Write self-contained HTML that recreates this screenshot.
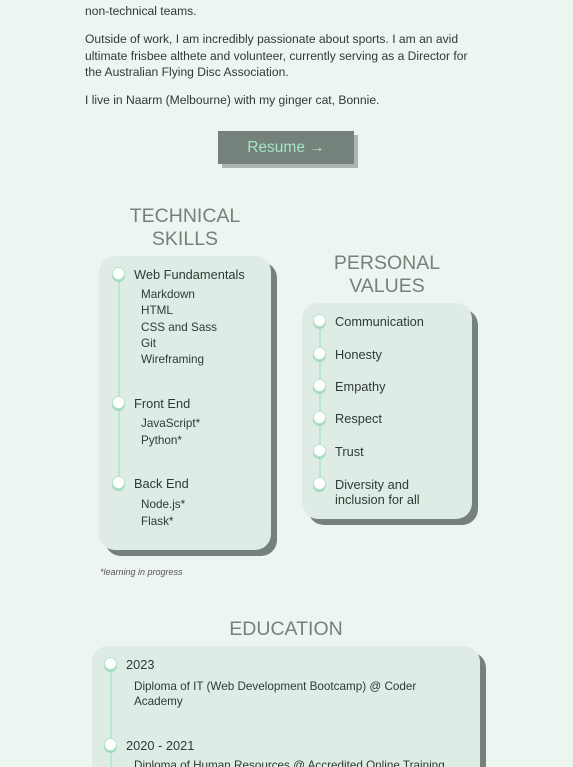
<!DOCTYPE html><html><head><style>
html,body{margin:0;width:573px;height:767px;overflow:hidden}
body{background:#edf5f0;font-family:"Liberation Sans",sans-serif;color:#2f3a34;position:relative}
.a{position:absolute;white-space:nowrap}
p{margin:0;font-size:12.1px;line-height:16.5px}
.h{color:#74827b;font-size:19.5px;text-align:center;line-height:23px}
.card{position:absolute;background:#dfece5;border-radius:16px;box-shadow:6px 6px 0 #74827b}
.dot{position:absolute;width:11px;height:11px;border-radius:50%;background:#fff;border:1px solid #b9e2cc;box-shadow:0 2px 0 #9fdcbc}
.line{position:absolute;width:2px;background:#b9e8cf}
.t{font-size:12.8px}
.s{font-size:11.7px}
</style></head><body>
<p class="a" style="left:85px;top:3px">non-technical teams.</p>
<p class="a" style="left:85px;top:31px">Outside of work, I am incredibly passionate about sports. I am an avid<br>ultimate frisbee althete and volunteer, currently serving as a Director for<br>the Australian Flying Disc Association.</p>
<p class="a" style="left:85px;top:92px">I live in Naarm (Melbourne) with my ginger cat, Bonnie.</p>
<div class="a" style="left:222px;top:135px;width:136px;height:33px;background:#a9b5ae"></div>
<div class="a" style="left:218px;top:131px;width:136px;height:33px;background:#74827b;color:#a3e6c4;font-size:15.5px;text-align:center;line-height:33px">Resume →</div>

<div class="a h" style="left:105px;top:205px;width:160px">TECHNICAL<br>SKILLS</div>
<div class="card" style="left:99px;top:256px;width:172px;height:294px"></div>
<div class="line" style="left:118px;top:280px;height:205px"></div>
<div class="dot" style="left:112px;top:267px"></div>
<div class="dot" style="left:112px;top:396px"></div>
<div class="dot" style="left:112px;top:476px"></div>
<div class="a t" style="left:134px;top:267px">Web Fundamentals</div>
<div class="a s" style="left:141px;top:287px;line-height:16.3px">Markdown<br>HTML<br>CSS and Sass<br>Git<br>Wireframing</div>
<div class="a t" style="left:134px;top:396px">Front End</div>
<div class="a s" style="left:141px;top:416px;line-height:16.5px">JavaScript*<br>Python*</div>
<div class="a t" style="left:134px;top:476px">Back End</div>
<div class="a s" style="left:141px;top:497px;line-height:16.5px">Node.js*<br>Flask*</div>
<div class="a" style="left:100px;top:567px;font-size:9px;font-style:italic;color:#555">*learning in progress</div>

<div class="a h" style="left:307px;top:252px;width:160px">PERSONAL<br>VALUES</div>
<div class="card" style="left:302px;top:303px;width:170px;height:216px"></div>
<div class="line" style="left:319px;top:325px;height:160px"></div>
<div class="dot" style="left:313px;top:314px"></div>
<div class="dot" style="left:313px;top:347px"></div>
<div class="dot" style="left:313px;top:379px"></div>
<div class="dot" style="left:313px;top:411px"></div>
<div class="dot" style="left:313px;top:444px"></div>
<div class="dot" style="left:313px;top:477px"></div>
<div class="a t" style="left:335px;top:314px">Communication</div>
<div class="a t" style="left:335px;top:347px">Honesty</div>
<div class="a t" style="left:335px;top:379px">Empathy</div>
<div class="a t" style="left:335px;top:411px">Respect</div>
<div class="a t" style="left:335px;top:444px">Trust</div>
<div class="a t" style="left:335px;top:477px;line-height:15px">Diversity and<br>inclusion for all</div>

<div class="a h" style="left:186px;top:618px;width:200px">EDUCATION</div>
<div class="card" style="left:92px;top:646px;width:388px;height:140px"></div>
<div class="line" style="left:110px;top:668px;height:100px"></div>
<div class="dot" style="left:104px;top:657px"></div>
<div class="dot" style="left:104px;top:738px"></div>
<div class="a t" style="left:126px;top:657px">2023</div>
<div class="a s" style="left:134px;top:680px;line-height:14.5px">Diploma of IT (Web Development Bootcamp) @ Coder<br>Academy</div>
<div class="a t" style="left:126px;top:738px">2020 - 2021</div>
<div class="a s" style="left:134px;top:759px">Diploma of Human Resources @ Accredited Online Training</div>
</body></html>
